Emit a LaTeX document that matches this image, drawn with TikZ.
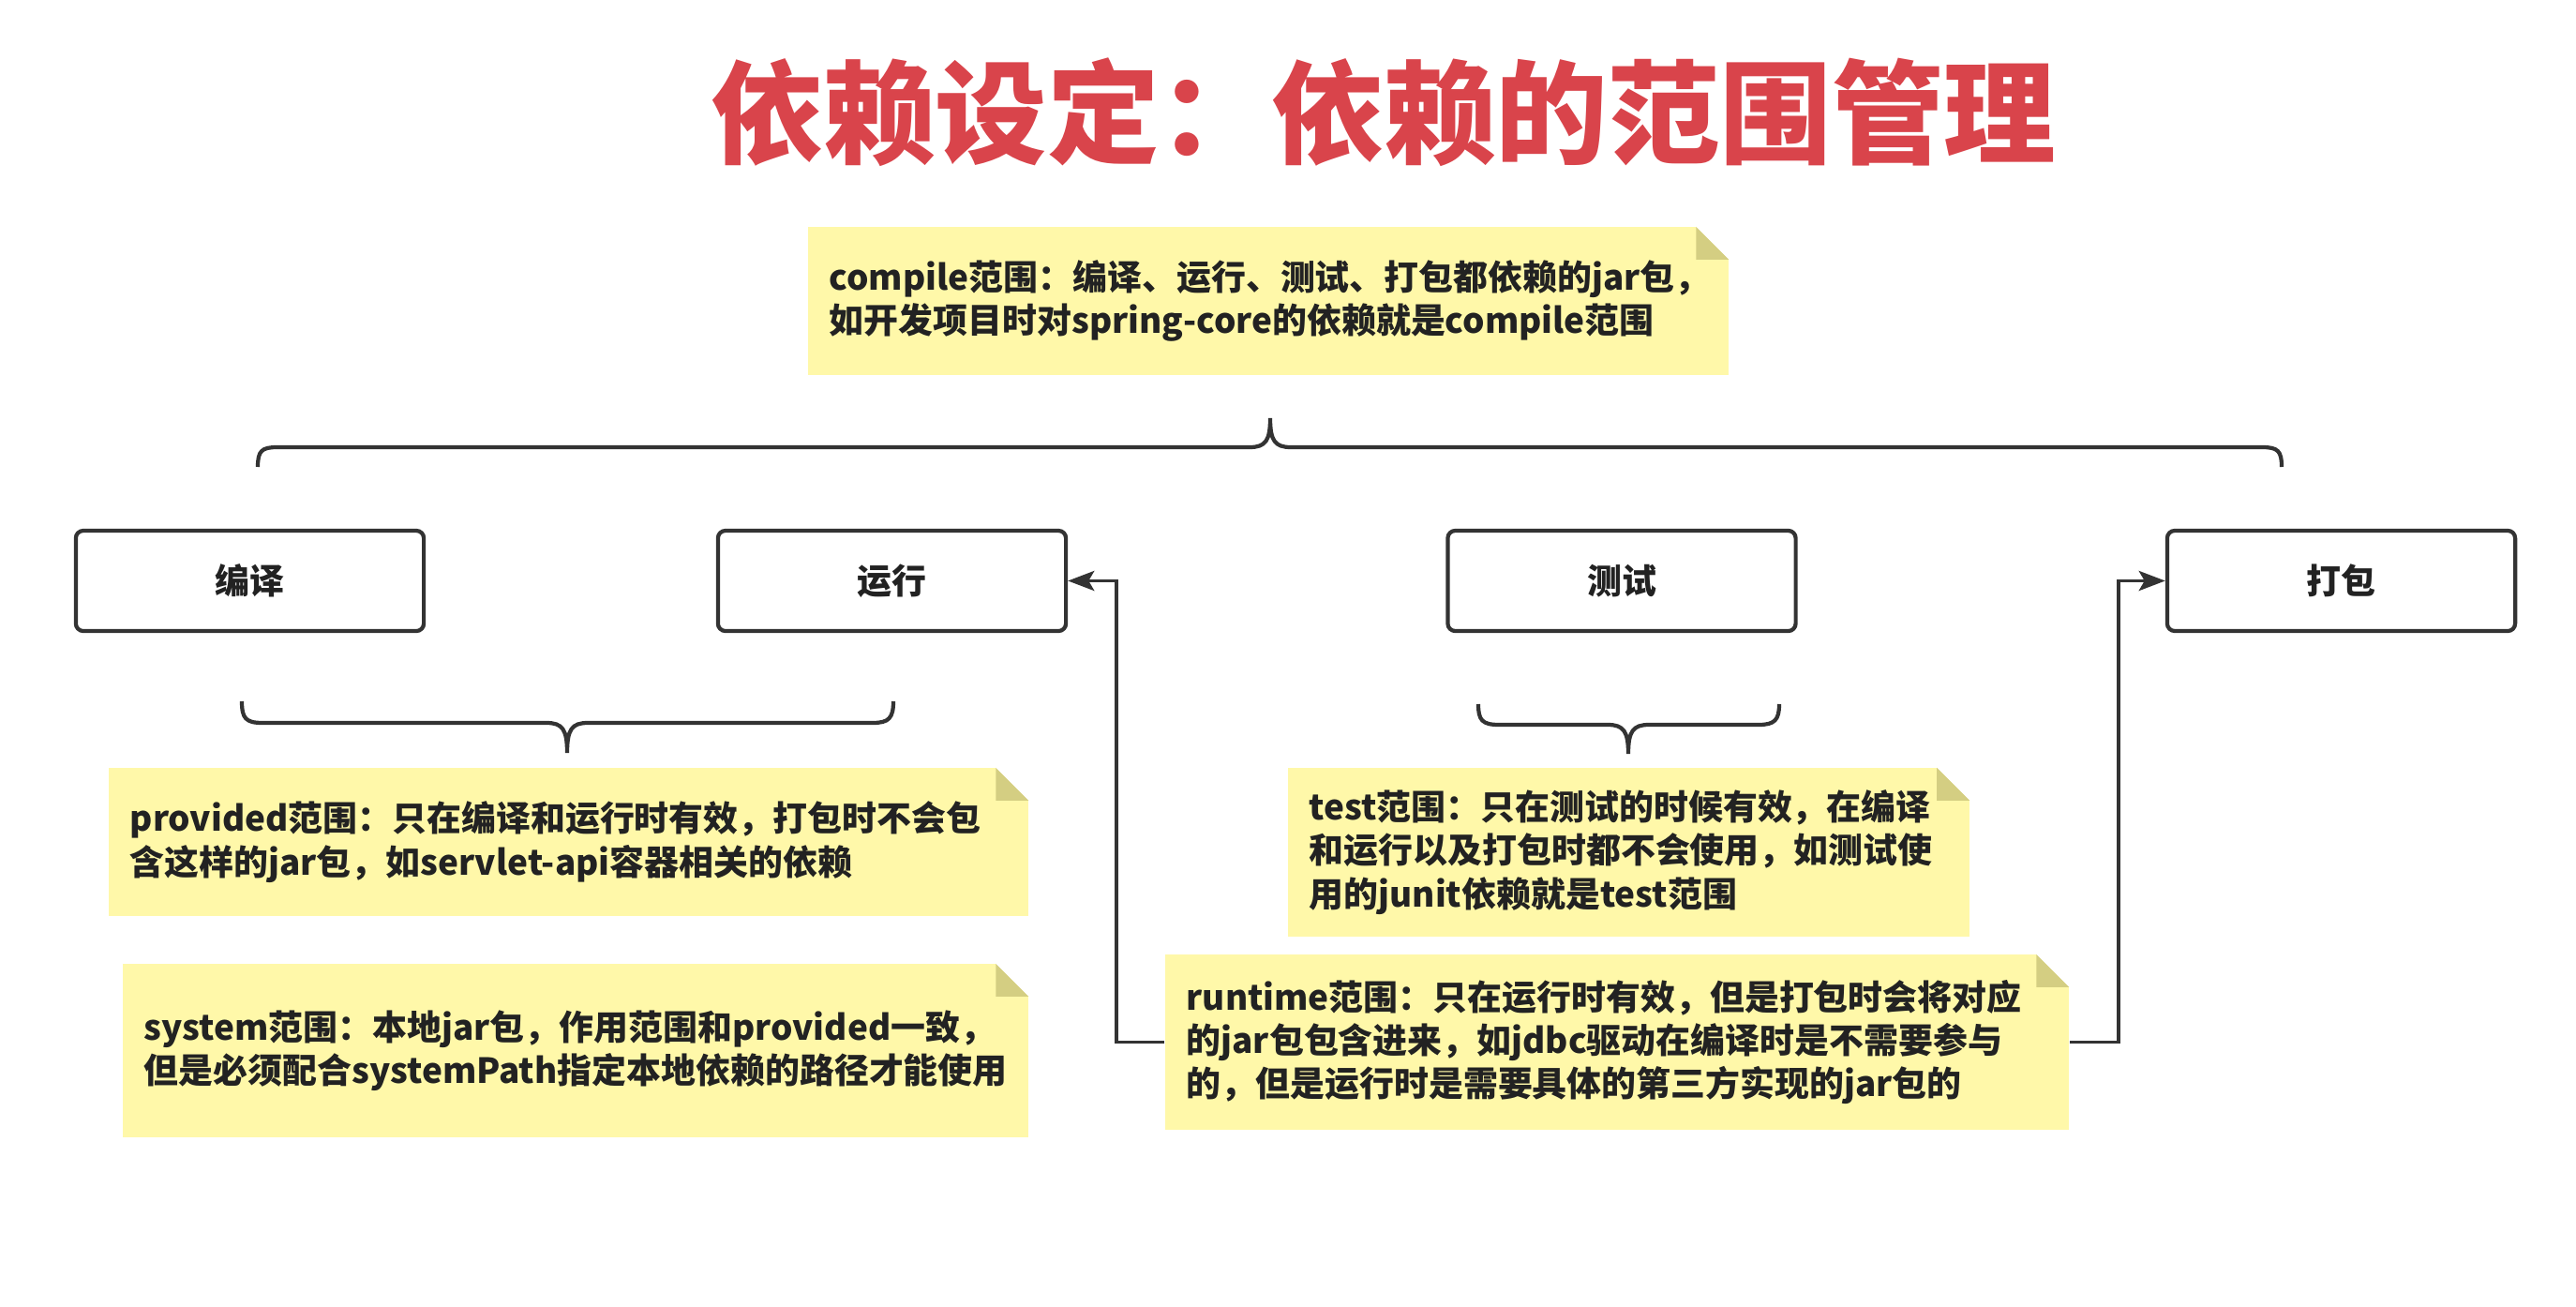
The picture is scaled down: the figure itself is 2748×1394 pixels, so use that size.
\documentclass[tikz,border=0pt]{standalone}
\usepackage{fontspec}
\setmainfont{Noto Sans CJK SC}
\usepackage{tikz}
\usetikzlibrary{arrows.meta}
\usetikzlibrary{positioning}
\definecolor{titlered}{HTML}{D9444B}
\definecolor{notebg}{HTML}{FFF8A9}
\definecolor{notefold}{HTML}{D4CE82}
\definecolor{edgegray}{HTML}{333333}
\definecolor{ink}{HTML}{222222}
\tikzstyle{base}=[x=0.01cm, y=-0.01cm, font=\fontsize{10.5}{13.2}\selectfont\bfseries]
\tikzstyle{stage}=[draw=edgegray, line width=1.2pt, rounded corners=0.08cm, fill=white, text=ink,
    minimum width=3.71cm, minimum height=1.07cm]
\tikzstyle{note}=[fill=notebg, align=left, inner xsep=0.23cm, text=ink,
    path picture={
        \fill[white] ([xshift=-0.35cm]path picture bounding box.north east)
            -- (path picture bounding box.north east)
            -- ([yshift=-0.35cm]path picture bounding box.north east) -- cycle;
        \fill[notefold] ([xshift=-0.35cm]path picture bounding box.north east)
            -- ([xshift=-0.35cm, yshift=-0.35cm]path picture bounding box.north east)
            -- ([yshift=-0.35cm]path picture bounding box.north east) -- cycle;
    }]
\tikzstyle{brace}=[draw=edgegray, line width=1.2pt]
\tikzstyle{link}=[draw=edgegray, line width=1.1pt, -{Stealth[length=0.28cm, width=0.21cm, inset=0.06cm]}]

\begin{document}
\begin{tikzpicture}[base]
    \useasboundingbox (0,0) rectangle (2748,1394);
    % title
    \node [text=titlered, font=\fontsize{34}{40}\selectfont\bfseries] (title) at (1476,120) {依赖设定：依赖的范围管理};
    % compile note
    \node [note, minimum width=9.82cm, minimum height=1.58cm, text width=9.36cm] (compilenote) at (1353,321)
        {compile范围：编译、运行、测试、打包都依赖的jar包，\\如开发项目时对spring-core的依赖就是compile范围};
    % top brace
    \draw [brace] (275,498) .. controls (275,481) and (279,477) .. (296,477) -- (1333,477)
        .. controls (1350,477) and (1355,470) .. (1355,446)
        .. controls (1355,470) and (1360,477) .. (1377,477) -- (2413,477)
        .. controls (2430,477) and (2434,481) .. (2434,498);
    % stages
    \node [stage] (compile) at (266.5,619.5) {编译};
    \node [stage] (run) at (951.5,619.5) {运行};
    \node [stage] (test) at (1730,619.5) {测试};
    \node [stage] (pack) at (2497.5,619.5) {打包};
    % lower braces
    \draw [brace] (258,748) .. controls (258,766) and (262,771) .. (280,771) -- (583,771)
        .. controls (600,771) and (605,778) .. (605,803)
        .. controls (605,778) and (610,771) .. (627,771) -- (931,771)
        .. controls (948,771) and (953,766) .. (953,748);
    \draw [brace] (1577,751) .. controls (1577,768) and (1581,773) .. (1599,773) -- (1715,773)
        .. controls (1732,773) and (1737,780) .. (1737,804)
        .. controls (1737,780) and (1742,773) .. (1759,773) -- (1876,773)
        .. controls (1893,773) and (1898,768) .. (1898,751);
    % scope notes
    \node [note, minimum width=9.81cm, minimum height=1.58cm, text width=9.35cm] (providednote) at (606.5,898)
        {provided范围：只在编译和运行时有效，打包时不会包\\含这样的jar包，如servlet-api容器相关的依赖};
    \node [note, minimum width=9.66cm, minimum height=1.85cm, text width=9.2cm] (systemnote) at (614,1120.5)
        {system范围：本地jar包，作用范围和provided一致，\\但是必须配合systemPath指定本地依赖的路径才能使用};
    \node [note, minimum width=7.27cm, minimum height=1.80cm, text width=6.81cm] (testnote) at (1737.5,909)
        {test范围：只在测试的时候有效，在编译\\和运行以及打包时都不会使用，如测试使\\用的junit依赖就是test范围};
    \node [note, minimum width=9.64cm, minimum height=1.87cm, text width=9.18cm] (runtimenote) at (1725,1111.5)
        {runtime范围：只在运行时有效，但是打包时会将对应\\的jar包包含进来，如jdbc驱动在编译时是不需要参与\\的，但是运行时是需要具体的第三方实现的jar包的};
    % runtime links
    \draw [link] (runtimenote.west) -- ++(-51,0) |- (run.east);
    \draw [link] (runtimenote.east) -- ++(52,0) |- (pack.west);
\end{tikzpicture}
\end{document}
